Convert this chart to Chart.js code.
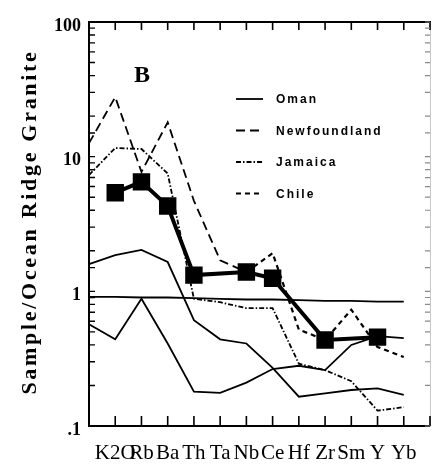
<!DOCTYPE html>
<html>
<head>
<meta charset="utf-8">
<script src="https://cdn.jsdelivr.net/npm/chart.js@4"></script>
<style>
  body { margin: 0; background: #fff; }
  #wrap { width: 432px; height: 468px; }
</style>
</head>
<body>
<div id="wrap"><canvas id="chart"></canvas></div>
<script>
// element order, blank slots sit on the left and right axes
const elements = ['', 'K2O', 'Rb', 'Ba', 'Th', 'Ta', 'Nb', 'Ce', 'Hf', 'Zr', 'Sm', 'Y', 'Yb', '']

// solid lines (Oman)
const omanFlat = [0.91, 0.91, 0.9, 0.9, 0.89, 0.88, 0.87, 0.87, 0.86, 0.85, 0.85, 0.84, 0.84]
const omanHigh = [1.59, 1.86, 2.03, 1.65, 0.61, 0.44, 0.41, 0.27, 0.165, 0.175, 0.185, 0.19, 0.17]
const omanLow = [0.57, 0.44, 0.88, 0.41, 0.18, 0.176, 0.21, 0.265, 0.28, 0.26, 0.4, 0.465, 0.45]

// broken lines
const newfoundland = [12.6, 27.7, 7.7, 18, 4.7, 1.7, 1.39, null, null, null, null, null, null]
const jamaica = [7.3, 11.6, 11.4, 7.5, 0.88, 0.83, 0.75, 0.75, 0.29, 0.26, 0.215, 0.13, 0.138]
const chile = [null, null, null, null, null, null, 1.39, 1.92, 0.52, 0.435, 0.73, 0.386, 0.325]

// thick line with squares
const sampleB = [null, 5.4, 6.5, 4.3, 1.32, null, 1.39, 1.25, null, 0.435, null, 0.457, null]

const yTicks = [0.1, 1, 10, 100]
const yTickText = ['.1', '1', '10', '100']

const thin = (label, data, dash) => ({
    label: label,
    data: data,
    borderColor: '#000',
    borderWidth: 1.8,
    borderDash: dash,
    pointRadius: 0,
    spanGaps: false,
    tension: 0
})

// tick marks pointing into the plot, taken from the scales
const inwardTicks = {
    id: 'inwardTicks',
    afterDraw: (chart) => {
        const ctx = chart.ctx
        const area = chart.chartArea
        const sides = [
            ['x', 'bottom', 10, '#000', 1.6],
            ['x2', 'top', 8, '#000', 1.6],
            ['y', 'left', 6, '#000', 1.4],
            ['y2', 'right', 5, '#8a8a8a', 1.2]
        ]
        ctx.save()
        ctx.setLineDash([])
        sides.forEach(([id, side, len, color, w]) => {
            const scale = chart.scales[id]
            ctx.strokeStyle = color
            ctx.lineWidth = w
            ctx.beginPath()
            scale.ticks.forEach((t, i) => {
                const p = scale.getPixelForTick(i)
                if (side === 'bottom') { ctx.moveTo(p, area.bottom); ctx.lineTo(p, area.bottom - len) }
                if (side === 'top') { ctx.moveTo(p, area.top); ctx.lineTo(p, area.top + len) }
                if (side === 'left') { ctx.moveTo(area.left, p); ctx.lineTo(area.left + len, p) }
                if (side === 'right') { ctx.moveTo(area.right, p); ctx.lineTo(area.right - len, p) }
            })
            ctx.stroke()
        })
        ctx.restore()
    }
}

// title, panel letter and the legend inside the plot
const extras = {
    id: 'extras',
    afterDraw: (chart) => {
        const ctx = chart.ctx
        const area = chart.chartArea
        ctx.save()
        ctx.fillStyle = '#000'

        ctx.save()
        ctx.font = 'bold 22px "Liberation Serif"'
        ctx.letterSpacing = '2.7px'
        ctx.textAlign = 'center'
        ctx.textBaseline = 'middle'
        ctx.translate(30, (area.top + area.bottom) / 2 - 2)
        ctx.rotate(-Math.PI / 2)
        ctx.fillText('Sample/Ocean Ridge Granite', 0, 0)
        ctx.restore()

        ctx.font = 'bold 24px "Liberation Serif"'
        ctx.textAlign = 'center'
        ctx.textBaseline = 'middle'
        ctx.fillText('B', area.left + 53, area.top + 54)

        // legend
        const seen = []
        chart.data.datasets.forEach(ds => {
            if (!ds.label || seen.includes(ds.label)) return
            const row = seen.length
            seen.push(ds.label)
            const y = area.top + 77 + row * 31.5
            ctx.strokeStyle = '#000'
            ctx.lineWidth = ds.borderWidth
            ctx.setLineDash(ds.borderDash || [])
            ctx.beginPath()
            ctx.moveTo(area.left + 147, y)
            ctx.lineTo(area.left + 174, y)
            ctx.stroke()
            ctx.setLineDash([])
            ctx.font = 'bold 12px "Liberation Sans"'
            ctx.letterSpacing = '2px'
            ctx.textAlign = 'left'
            ctx.fillText(ds.label, area.left + 187, y + 1)
            ctx.letterSpacing = '0px'
        })
        ctx.restore()
    }
}

const ctx = document.getElementById('chart').getContext('2d')

// grid tick length is only used to push labels away from the axis, the
// visible ticks come from the inwardTicks plugin
new Chart(ctx, {
    type: 'line',
    data: {
        labels: elements,
        datasets: [
            thin('Oman', omanFlat, []),
            thin('Newfoundland', newfoundland, [9, 5]),
            thin('Jamaica', jamaica, [5, 2, 1.5, 2]),
            Object.assign(thin('Chile', chile, [5, 4]), { borderWidth: 2.2 }),
            thin('Oman', omanHigh, []),
            thin('Oman', omanLow, []),
            {
                label: '',
                data: sampleB,
                borderColor: '#000',
                backgroundColor: '#000',
                borderWidth: 4,
                pointStyle: 'rect',
                pointRadius: 9.5,
                pointHoverRadius: 9.5,
                spanGaps: true,
                tension: 0
            }
        ]
    },
    options: {
        responsive: true,
        maintainAspectRatio: false,
        animation: false,
        layout: { padding: 0, autoPadding: false },
        plugins: {
            legend: { display: false },
            tooltip: { enabled: false }
        },
        scales: {
            x: {
                position: 'bottom',
                offset: false,
                afterFit: s => { s.height = 42 },
                border: { color: '#000', width: 2 },
                grid: { drawOnChartArea: false, tickLength: 15, tickColor: 'rgba(0,0,0,0)' },
                ticks: {
                    autoSkip: false,
                    maxRotation: 0,
                    padding: 0,
                    color: '#000',
                    font: { family: '"Liberation Serif"', size: 21 }
                }
            },
            x2: {
                type: 'category',
                position: 'top',
                offset: false,
                afterFit: s => { s.height = 22 },
                border: { color: '#000', width: 2 },
                grid: { drawOnChartArea: false, drawTicks: false },
                ticks: { display: false, padding: 0 }
            },
            y: {
                type: 'logarithmic',
                position: 'left',
                min: 0.1,
                max: 100,
                afterFit: s => { s.width = 89 },
                border: { color: '#000', width: 2 },
                grid: { drawOnChartArea: false, tickLength: 8, tickColor: 'rgba(0,0,0,0)' },
                ticks: {
                    autoSkip: false,
                    padding: 0,
                    labelOffset: 4,
                    color: '#000',
                    font: { family: '"Liberation Serif"', size: 18, weight: 'bold' },
                    callback: v => {
                        const i = yTicks.findIndex(t => Math.abs(t - v) < 1e-9)
                        return i >= 0 ? yTickText[i] : ''
                    }
                }
            },
            y2: {
                type: 'logarithmic',
                position: 'right',
                min: 0.1,
                max: 100,
                afterFit: s => { s.width = 2 },
                border: { color: '#c8c8c8', width: 1 },
                grid: { drawOnChartArea: false, drawTicks: false },
                ticks: { display: false, padding: 0 }
            }
        }
    },
    plugins: [inwardTicks, extras]
})
</script>
</body>
</html>
